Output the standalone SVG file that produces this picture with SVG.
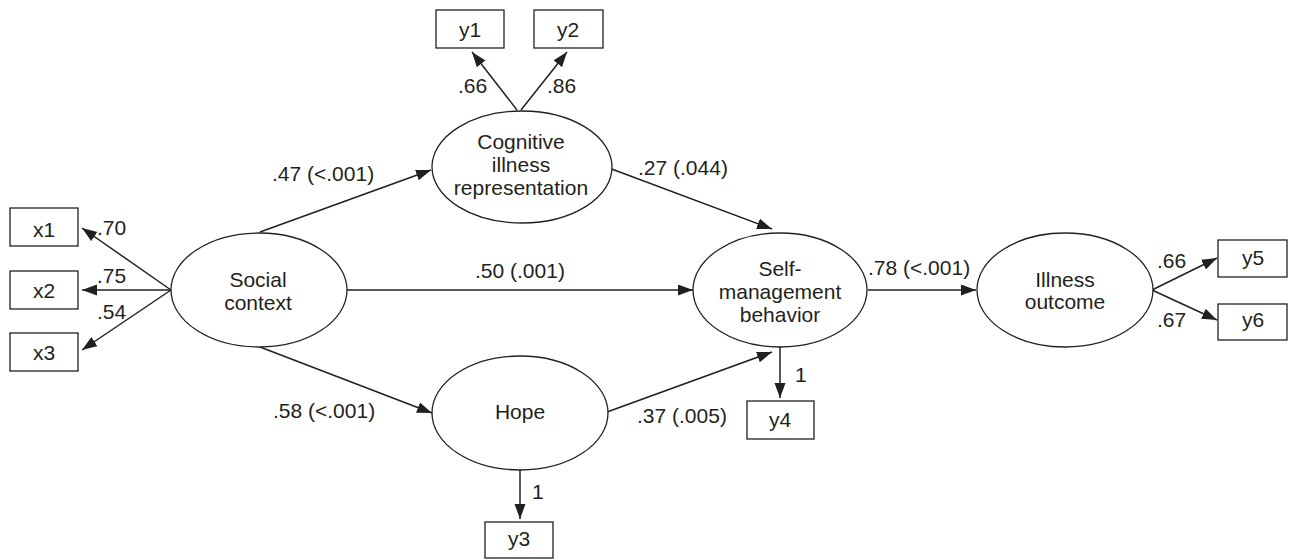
<svg xmlns="http://www.w3.org/2000/svg" width="1289" height="560" viewBox="0 0 1289 560">
<style>
.n{fill:#fff;stroke:#231f20;stroke-width:1.3}
text{font-family:"Liberation Sans",Arial,sans-serif;font-size:21px;fill:#231f20}
.c{text-anchor:middle}
.e line{stroke:#231f20;stroke-width:1.5;marker-end:url(#ah)}
</style>
<defs>
<marker id="ah" markerUnits="userSpaceOnUse" markerWidth="16" markerHeight="12" refX="15" refY="5.5" orient="auto">
<path d="M0,0 L15,5.5 L0,11 z" fill="#231f20"/>
</marker>
</defs>
<rect width="1289" height="560" fill="#fff"/>
<g class="e" id="connectors">
<line x1="171" y1="290" x2="82" y2="228"/>
<line x1="171" y1="290" x2="82" y2="290"/>
<line x1="171" y1="290" x2="82" y2="350"/>
<line x1="260" y1="232" x2="431" y2="170"/>
<line x1="260" y1="347" x2="432" y2="413"/>
<line x1="347" y1="290" x2="693" y2="290"/>
<line x1="609" y1="168" x2="772" y2="229"/>
<line x1="607" y1="412" x2="772" y2="352"/>
<line x1="780" y1="347" x2="780" y2="398"/>
<line x1="520" y1="470" x2="520" y2="519"/>
<line x1="868" y1="290" x2="976" y2="290"/>
<line x1="1152" y1="290" x2="1217" y2="258"/>
<line x1="1152" y1="290" x2="1217" y2="320"/>
<line x1="517" y1="110" x2="472" y2="52"/>
<line x1="521" y1="110" x2="567" y2="52"/>
</g>
<g id="labels">
<text x="97" y="235">.70</text>
<text x="97" y="283">.75</text>
<text x="97" y="319">.54</text>
<text x="458" y="93">.66</text>
<text x="547" y="93">.86</text>
<text x="272" y="181">.47 (&lt;.001)</text>
<text x="638" y="175">.27 (.044)</text>
<text x="475" y="278">.50 (.001)</text>
<text x="868" y="275">.78 (&lt;.001)</text>
<text x="273" y="418">.58 (&lt;.001)</text>
<text x="637" y="423">.37 (.005)</text>
<text x="795" y="382">1</text>
<text x="532" y="499">1</text>
<text x="1157" y="268">.66</text>
<text x="1157" y="327">.67</text>
</g>
<g id="social"><ellipse class="n" cx="259" cy="290" rx="88" ry="57"/><text class="c" x="258" y="287">Social</text><text class="c" x="258" y="310">context</text></g>
<g id="cognitive"><ellipse class="n" cx="522" cy="167" rx="90" ry="56"/><text class="c" x="521" y="149">Cognitive</text><text class="c" x="521" y="172">illness</text><text class="c" x="521" y="195">representation</text></g>
<g id="self"><ellipse class="n" cx="780" cy="290" rx="87" ry="57"/><text class="c" x="780" y="276">Self-</text><text class="c" x="780" y="299">management</text><text class="c" x="780" y="322">behavior</text></g>
<g id="hope"><ellipse class="n" cx="520" cy="413" rx="88" ry="57"/><text class="c" x="520" y="419">Hope</text></g>
<g id="illness"><ellipse class="n" cx="1065" cy="290" rx="88" ry="57"/><text class="c" x="1065" y="287">Illness</text><text class="c" x="1065" y="309">outcome</text></g>
<g id="x1"><rect class="n" x="10" y="208" width="68" height="38"/><text class="c" x="44" y="237">x1</text></g>
<g id="x2"><rect class="n" x="10" y="271" width="68" height="38"/><text class="c" x="44" y="298">x2</text></g>
<g id="x3"><rect class="n" x="10" y="333" width="68" height="38"/><text class="c" x="44" y="360">x3</text></g>
<g id="y1"><rect class="n" x="436" y="10" width="68" height="38"/><text class="c" x="470" y="37">y1</text></g>
<g id="y2"><rect class="n" x="534" y="10" width="69" height="38"/><text class="c" x="568" y="37">y2</text></g>
<g id="y3"><rect class="n" x="485" y="522" width="68" height="36"/><text class="c" x="519" y="546">y3</text></g>
<g id="y4"><rect class="n" x="747" y="401" width="67" height="38"/><text class="c" x="780" y="427">y4</text></g>
<g id="y5"><rect class="n" x="1218" y="240" width="69" height="37"/><text class="c" x="1253" y="265">y5</text></g>
<g id="y6"><rect class="n" x="1218" y="304" width="69" height="36"/><text class="c" x="1253" y="327">y6</text></g>
</svg>
